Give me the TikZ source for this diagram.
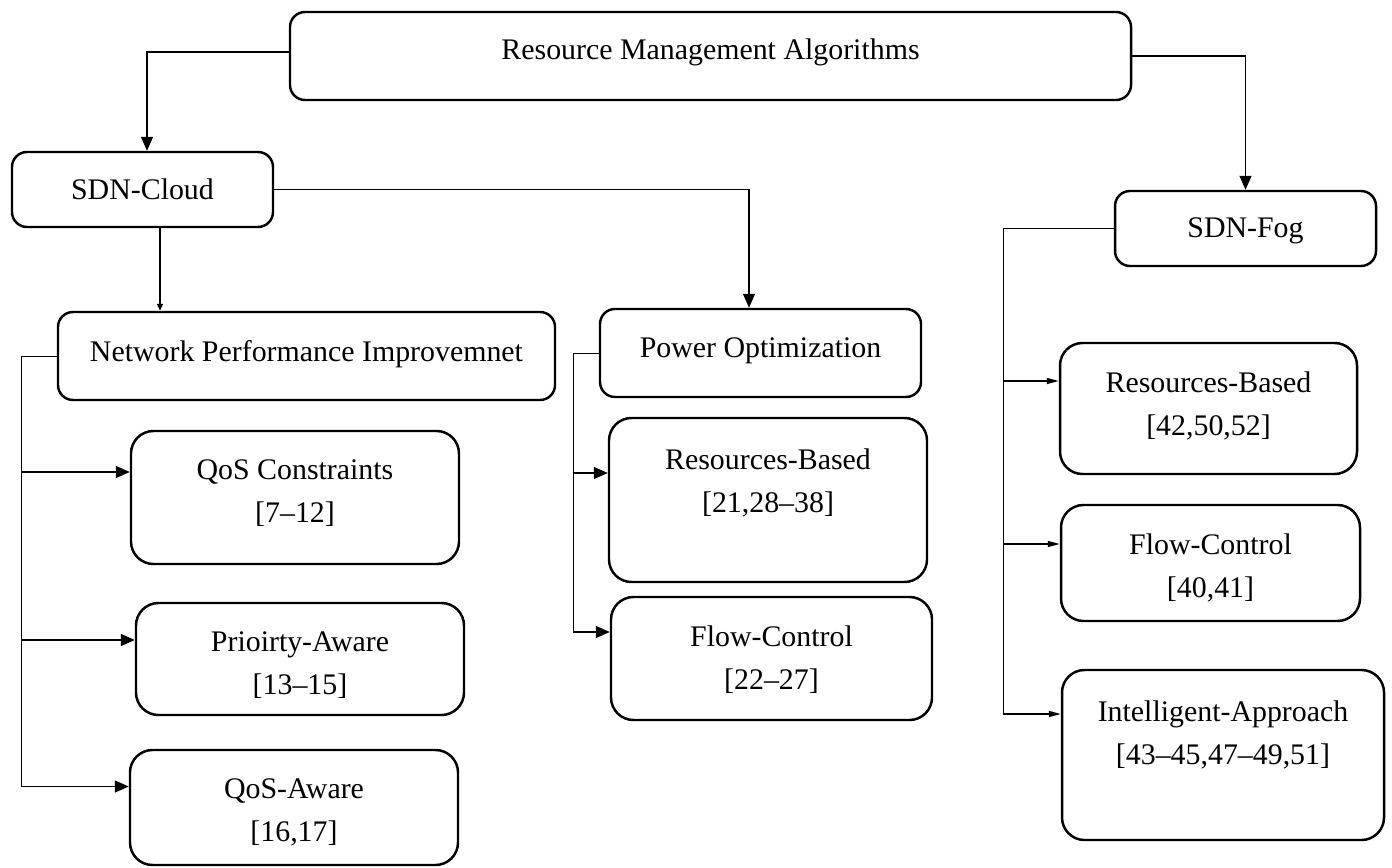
\documentclass[tikz,border=0pt]{standalone}
\usepackage{fontspec}
\setmainfont{Liberation Serif}
\usepackage{tikz}
\usetikzlibrary{arrows.meta}

\begin{document}
\begin{tikzpicture}[
  box/.style 2 args={draw, line width=1.4pt, rounded corners=0.3cm, inner sep=0pt, minimum width=#1, minimum height=#2},
  tallbox/.style 2 args={box={#1}{#2}, rounded corners=0.45cm},
  txt/.style={anchor=north, yshift=-0.59cm, inner sep=0pt, align=center, font=\fontsize{17}{24.5}\selectfont},
  txtone/.style={txt, yshift=0.04cm},
  arr/.style={-{Triangle[length=0.28cm,width=0.24cm]}, line width=0.8pt},
  arrs/.style={-{Triangle[length=0.24cm,width=0.12cm]}, line width=0.8pt},
  arrt/.style={-{Triangle[length=0.14cm,width=0.12cm]}, line width=0.8pt}]
  \useasboundingbox (0,0) rectangle (27.84,-17.36);
  \node[box={16.82cm}{1.76cm}, label={[txtone]north:Resource Management Algorithms}] (rma) at (14.21,-1.12) {};
  \node[box={5.22cm}{1.5cm}, label={[txtone]north:SDN-Cloud}] (cloud) at (2.85,-3.79) {};
  \node[box={5.22cm}{1.5cm}, label={[txtone]north:SDN-Fog}] (fog) at (24.91,-4.57) {};
  \node[box={9.94cm}{1.76cm}, label={[txt]north:Network Performance Improvemnet}] (npi) at (6.13,-7.12) {};
  \node[box={6.42cm}{1.76cm}, label={[txt]north:Power Optimization}] (po) at (15.21,-7.06) {};

  \node[tallbox={6.56cm}{2.66cm}, label={[txt]north:{QoS Constraints\\{[7--12]}}}] (qosc) at (5.9,-9.95) {};
  \node[tallbox={6.56cm}{2.24cm}, label={[txt]north:{Prioirty-Aware\\{[13--15]}}}] (prio) at (6.0,-13.18) {};
  \node[tallbox={6.56cm}{2.3cm}, label={[txt]north:{QoS-Aware\\{[16,17]}}}] (qosa) at (5.88,-16.15) {};

  \node[tallbox={6.36cm}{3.28cm}, label={[txt, yshift=-0.04cm]north:{Resources-Based\\{[21,28--38]}}}] (rbm) at (15.36,-10.0) {};
  \node[tallbox={6.42cm}{2.46cm}, label={[txt]north:{Flow-Control\\{[22--27]}}}] (fcm) at (15.43,-13.17) {};

  \node[tallbox={5.94cm}{2.62cm}, label={[txt]north:{Resources-Based\\{[42,50,52]}}}] (rbf) at (24.17,-8.17) {};
  \node[tallbox={5.98cm}{2.32cm}, label={[txt]north:{Flow-Control\\{[40,41]}}}] (fcf) at (24.21,-11.26) {};
  \node[tallbox={6.44cm}{3.4cm}, label={[txt, yshift=-0.04cm]north:{Intelligent-Approach\\{[43--45,47--49,51]}}}] (ia) at (24.46,-15.1) {};

  \draw[arr] ([yshift=0.08cm]rma.west) -| ([xshift=0.09cm]cloud.north);
  \draw[arr] (rma.east) -| (fog.north);
  \draw[arr] (cloud.east) -| ([xshift=-0.23cm]po.north);
  \draw[arrt] ([xshift=0.35cm]cloud.south) -- ([xshift=0.35cm]cloud.south |- npi.north);

  \draw (npi.west) -- ++(-0.7,0) coordinate (nb);
  \draw[arr] (nb) |- ([yshift=0.51cm]qosc.west);
  \draw[arr] (nb) |- ([yshift=0.38cm]prio.west);
  \draw[arr] (nb) |- ([yshift=0.42cm]qosa.west);

  \draw (po.west) -- ++(-0.5,0) coordinate (pb);
  \draw[arr] (pb) |- ([yshift=0.54cm]rbm.west);
  \draw[arr] (pb) |- ([yshift=0.53cm]fcm.west);

  \draw (fog.west) -- ++(-2.2,0) coordinate (fb);
  \draw[arrs] (fb) |- ([yshift=0.55cm]rbf.west);
  \draw[arrs] (fb) |- ([yshift=0.38cm]fcf.west);
  \draw[arrs] (fb) |- ([yshift=0.82cm]ia.west);
\end{tikzpicture}
\end{document}
